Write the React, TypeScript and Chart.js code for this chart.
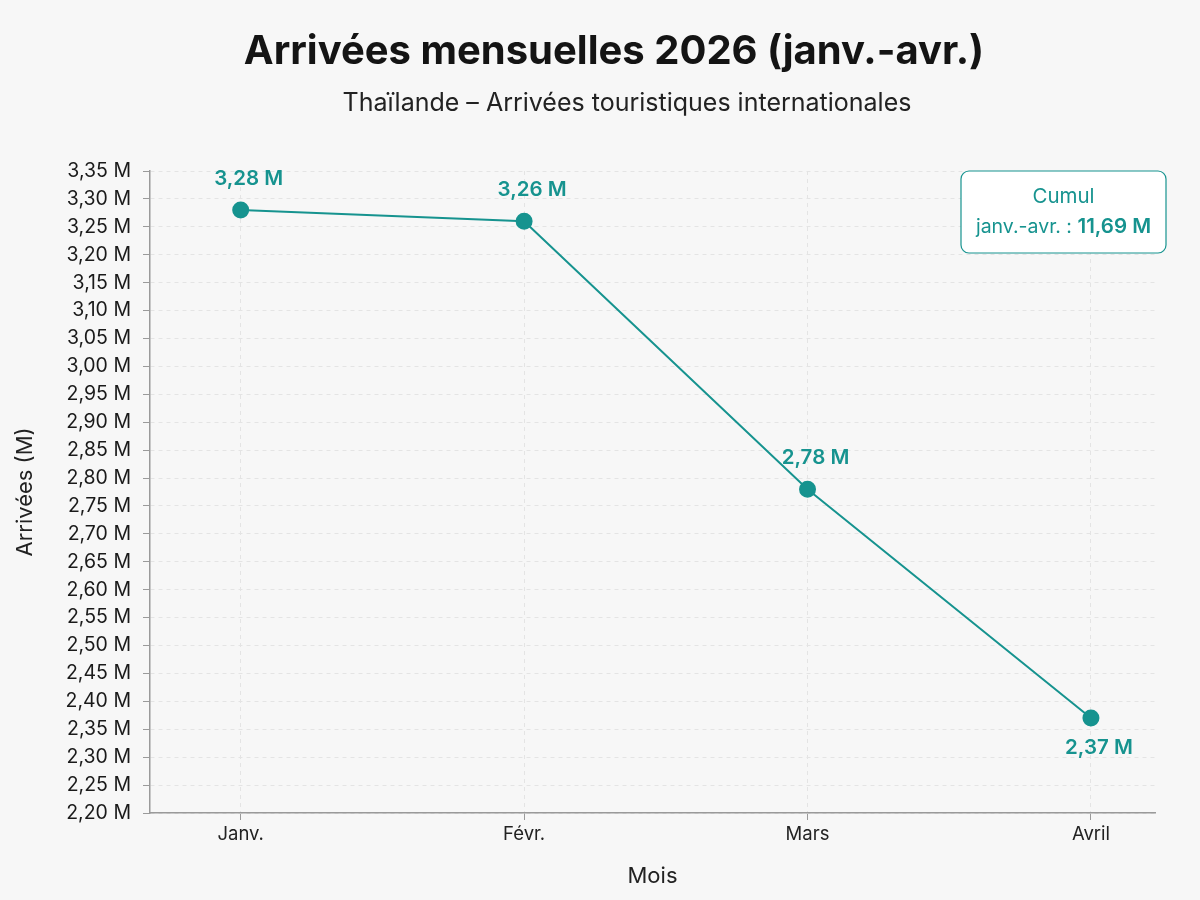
import React, { useEffect, useRef } from "react";
import { Chart, registerables } from "chart.js";

Chart.register(...registerables);

const months = ["Janv.", "Févr.", "Mars", "Avril"];
const arrivals = [3.28, 3.26, 2.78, 2.37];
const cumulLabel = "11,69 M";
const titleText = "Arrivées mensuelles 2026 (janv.-avr.)";
const subtitleText = "Thaïlande – Arrivées touristiques internationales";
const yMin = 2.2;
const yMax = 3.35;
const yStep = 0.05;

const TEAL = "#16938f";
const FONT = "Inter, 'Noto Sans', sans-serif";

const fmt = (v: number) => v.toFixed(2).replace(".", ",") + " M";

const decorPlugin = {
  id: "decor",
  afterDraw(chart: any) {
    const ctx = chart.ctx as CanvasRenderingContext2D;
    const area = chart.chartArea;
    ctx.save();
    // Titles
    ctx.fillStyle = "#141414";
    ctx.textAlign = "center";
    ctx.textBaseline = "middle";
    ctx.font = `bold 40px ${FONT}`;
    ctx.fillText(titleText, 614, 52);
    ctx.fillStyle = "#222";
    ctx.font = `25px ${FONT}`;
    ctx.fillText(subtitleText, 627, 103);

    // Data labels
    const meta = chart.getDatasetMeta(0);
    ctx.font = `600 20.5px ${FONT}`;
    ctx.fillStyle = TEAL;
    meta.data.forEach((pt: any, i: number) => {
      const last = i === arrivals.length - 1;
      const y = last ? pt.y + 30 : pt.y - 31;
      ctx.fillText(fmt(arrivals[i]), pt.x + 8, y);
    });

    // Cumul box
    const bx = area.right - 194;
    const by = area.top;
    const bw = 205;
    const bh = 82;
    ctx.beginPath();
    (ctx as any).roundRect(bx, by, bw, bh, 8);
    ctx.fillStyle = "#ffffff";
    ctx.fill();
    ctx.strokeStyle = TEAL;
    ctx.lineWidth = 1.2;
    ctx.stroke();
    ctx.fillStyle = TEAL;
    ctx.font = `20.5px ${FONT}`;
    ctx.fillText("Cumul", bx + bw / 2, by + 26);
    const part1 = "janv.-avr. : ";
    ctx.font = `19.5px ${FONT}`;
    const w1 = ctx.measureText(part1).width;
    ctx.font = `600 20.5px ${FONT}`;
    const w2 = ctx.measureText(cumulLabel).width;
    const sx = bx + bw / 2 - (w1 + w2) / 2;
    ctx.textAlign = "left";
    ctx.font = `19.5px ${FONT}`;
    ctx.fillText(part1, sx, by + 56);
    ctx.font = `600 20.5px ${FONT}`;
    ctx.fillText(cumulLabel, sx + w1, by + 56);
    ctx.restore();
  },
};

export default function App() {
  const ref = useRef<HTMLCanvasElement | null>(null);
  useEffect(() => {
    document.body.style.margin = "0";
    document.body.style.background = "#f7f7f7";
    if (!ref.current) return;
    const gridOpts = {
      color: "#e4e4e4",
      lineWidth: 1,
      tickLength: 7,
      tickColor: "#9a9a9a",
      tickBorderDash: [],
    };
    const chart = new Chart(ref.current, {
      type: "line",
      data: {
        datasets: [
          {
            data: arrivals.map((v, i) => ({ x: i, y: v })),
            borderColor: TEAL,
            backgroundColor: TEAL,
            borderWidth: 2,
            pointRadius: 7.5,
            pointBackgroundColor: TEAL,
            pointBorderColor: TEAL,
            tension: 0,
          },
        ],
      },
      options: {
        animation: false,
        responsive: false,
        layout: { padding: { top: 171, left: 0, right: 45, bottom: 0 } },
        plugins: {
          legend: { display: false },
          tooltip: { enabled: false },
          title: { display: false },
        },
        scales: {
          x: {
            type: "linear",
            min: -0.32,
            max: 3.226,
            afterBuildTicks: (scale: any) => {
              scale.ticks = months.map((_, i) => ({ value: i }));
            },
            afterFit: (scale: any) => {
              scale.height = 87;
            },
            ticks: {
              callback: (v: any) => months[v as number] ?? "",
              color: "#222",
              font: { family: FONT, size: 18.5 },
              padding: 3,
              autoSkip: false,
              maxRotation: 0,
            },
            grid: gridOpts,
            border: { display: true, color: "#9a9a9a", width: 1.5, dash: [4, 4] },
            title: {
              display: true,
              text: "Mois",
              color: "#222",
              font: { family: FONT, size: 22 },
              padding: { top: 0, bottom: 10 },
            },
          },
          y: {
            min: yMin,
            max: yMax,
            afterFit: (scale: any) => {
              scale.width = 150;
            },
            ticks: {
              stepSize: yStep,
              callback: (v: any) => fmt(Number(v)),
              color: "#1a1a1a",
              font: { family: FONT, size: 19.5 },
              padding: 12,
              autoSkip: false,
            },
            grid: gridOpts,
            border: { display: true, color: "#9a9a9a", width: 1.5, dash: [4, 4] },
            title: {
              display: true,
              text: "Arrivées (M)",
              color: "#222",
              font: { family: FONT, size: 22 },
              padding: { top: 12, bottom: 0 },
            },
          },
        },
      },
      plugins: [decorPlugin],
    } as any);
    return () => chart.destroy();
  }, []);
  return <canvas ref={ref} width={1200} height={900} style={{ display: "block" }} />;
}
